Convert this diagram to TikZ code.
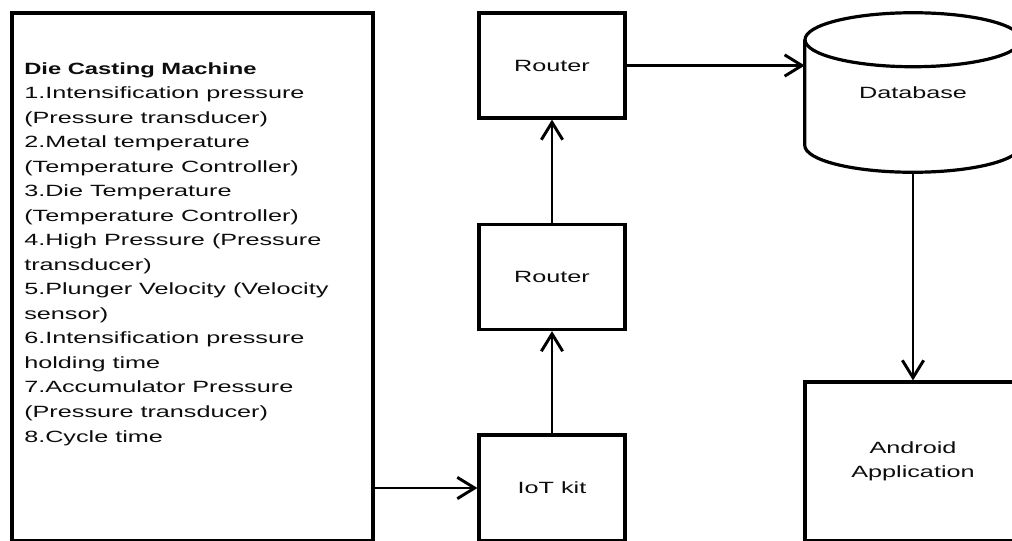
\documentclass[tikz,border=0pt]{standalone}
\usepackage{fontspec}
\setmainfont{Liberation Sans}[FakeStretch=1.55,BoldFeatures={FakeStretch=1.46}]
\usetikzlibrary{arrows.meta}

\begin{document}
\begin{tikzpicture}[x=0.75pt,y=-0.75pt,>={Straight Barb[length=13pt,width=16pt]},
  every node/.style={font=\fontsize{12.2pt}{18.4pt}\selectfont,text=black!95,align=center},
  block/.style={draw=black,line width=2.4pt,inner sep=0pt},
  conn/.style={->,line width=2.2pt}]
  \clip (0,0) rectangle (1012,540);
  \node[block,minimum width=270.75pt,minimum height=396pt] (machine) at (192.5,277) {};
  % the base of a node of several lines is its last line
  \node[anchor=base west,align=left,inner sep=0pt] (params) at (24,442)
    {\textbf{Die Casting Machine}\\
     1.Intensification pressure\\(Pressure transducer)\\
     2.Metal temperature\\(Temperature Controller)\\
     3.Die Temperature\\(Temperature Controller)\\
     4.High Pressure (Pressure\\transducer)\\
     5.Plunger Velocity (Velocity\\sensor)\\
     6.Intensification pressure\\holding time\\
     7.Accumulator Pressure\\(Pressure transducer)\\
     8.Cycle time};
  \node[block,minimum width=109.5pt,minimum height=79.5pt]  (iot)     at (552,488)   {IoT kit};
  \node[block,minimum width=109.5pt,minimum height=78.75pt] (router2) at (552,277)   {Router};
  \node[block,minimum width=109.5pt,minimum height=78.75pt] (router1) at (552,65.5)  {Router};
  \node[inner sep=0pt,minimum width=162pt,minimum height=119.25pt] (db) at (913,92.5) {Database};
  \node[block,minimum width=162pt,minimum height=119.25pt]  (android) at (913,461.5) {Android\\Application};

  % database drum
  \draw[block] ([yshift=-20.25pt]db.north) ellipse [x radius=81pt,y radius=20.25pt];
  \draw[block] ([yshift=-20.25pt]db.north west) -- ([yshift=20.25pt]db.south west)
    arc [start angle=180,end angle=360,x radius=81pt,y radius=20.25pt]
    -- ([yshift=-20.25pt]db.north east);

  \path[conn] (machine.east |- iot) edge (iot)
              (iot) edge (router2)
              (router2) edge (router1)
              (router1) edge (router1 -| db.west)
              (db) edge (android);
\end{tikzpicture}
\end{document}
